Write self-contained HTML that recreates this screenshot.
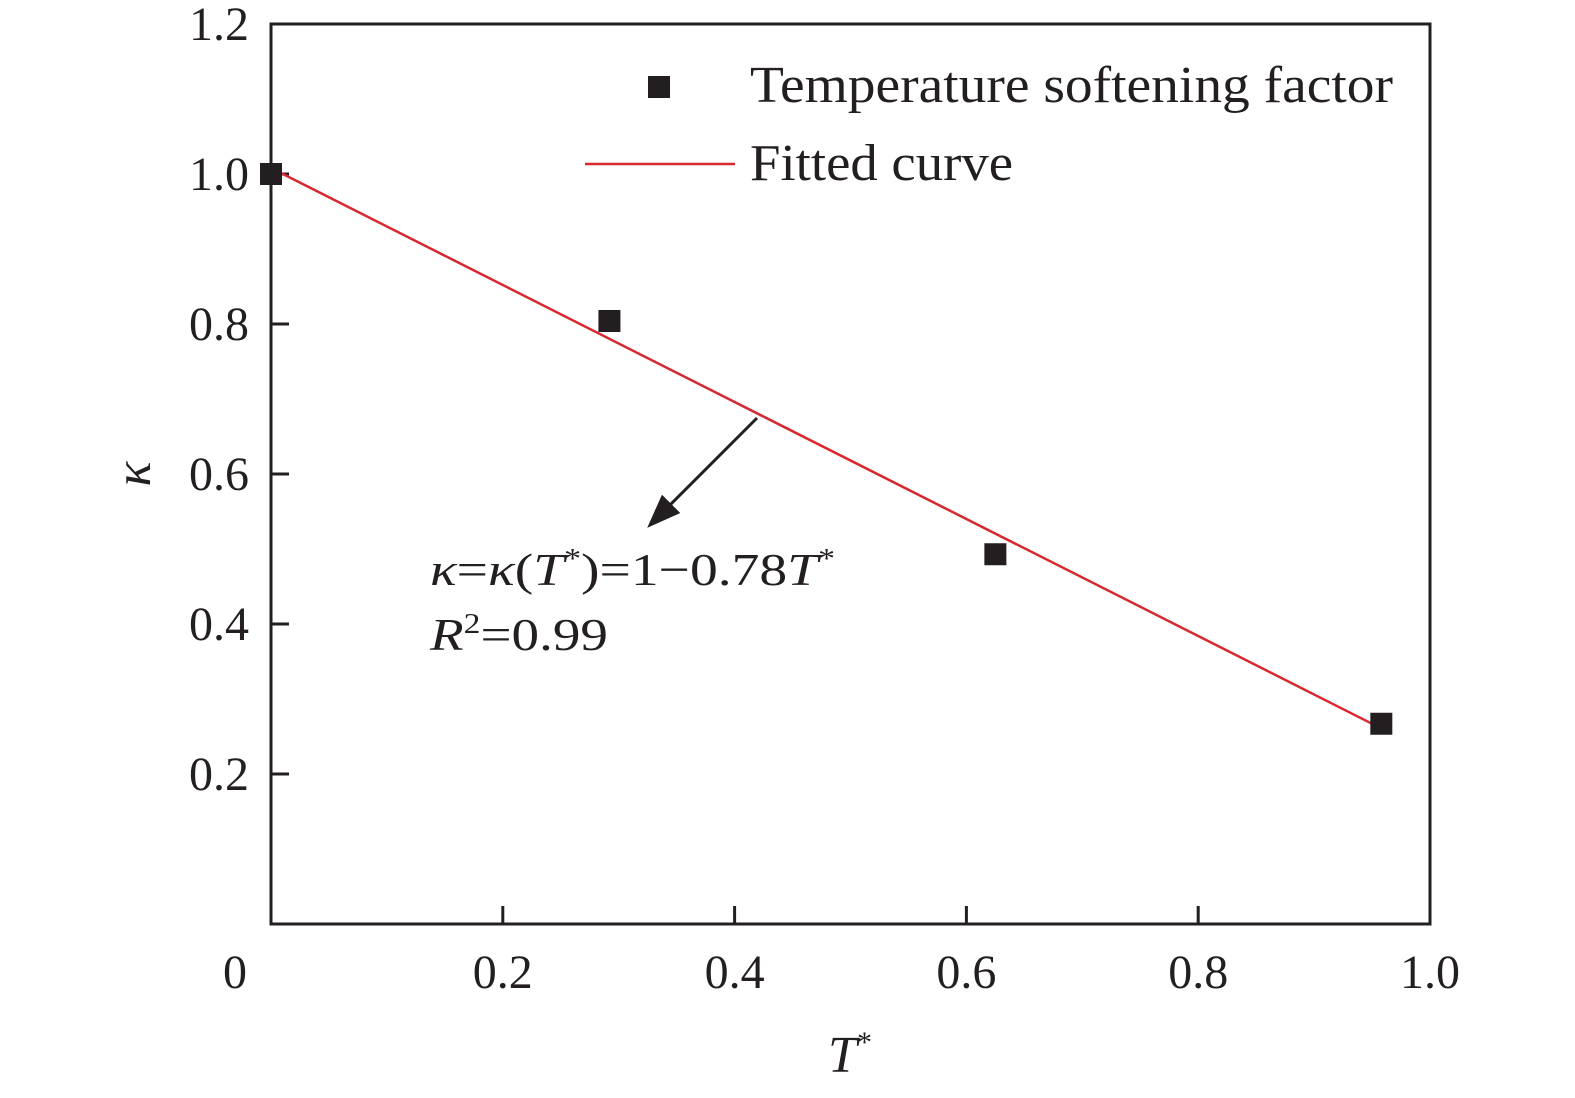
<!DOCTYPE html>
<html><head><meta charset="utf-8"><style>
html,body{margin:0;padding:0;background:#fff;overflow:hidden;width:1575px;height:1098px;}
body{position:relative;}
svg{display:block;}
svg text{font-family:"Liberation Serif",serif;fill:#231f20;}
</style></head><body>
<svg width="1575" height="1098" viewBox="0 0 1575 1098" style="position:absolute;left:0;top:0">
<defs><marker id="ah" markerWidth="34" markerHeight="26" refX="30" refY="13" orient="auto" markerUnits="userSpaceOnUse" viewBox="0 0 34 26"><path d="M0,0 L34,13 L0,26 z" fill="#231f20"/></marker></defs>
<g id="plot"></g>
</svg>
<script>
const xTicks=[0,0.2,0.4,0.6,0.8,1.0];
const xTickLabels=["0","0.2","0.4","0.6","0.8","1.0"];
const yTicks=[0.2,0.4,0.6,0.8,1.0,1.2];
const yTickLabels=["0.2","0.4","0.6","0.8","1.0","1.2"];
const tStar=[0,0.292,0.625,0.958];
const kappa=[1.0,0.804,0.493,0.267];
const fitX=[0,0.958];
const fitIntercept=1.008;
const fitSlope=-0.78;

const X0=271,X1=1430,Y0=924,Y1=24;
const sx=v=>X0+(X1-X0)*v;
const sy=v=>Y0-(Y0-Y1)*v/1.2;
const NS="http://www.w3.org/2000/svg";
const g=document.getElementById('plot');
function mk(t,a){const e=document.createElementNS(NS,t);for(const k in a)e.setAttribute(k,a[k]);g.appendChild(e);return e;}

const frame=mk('rect',{x:X0,y:Y1,width:X1-X0,height:Y0-Y1,fill:'none',stroke:'#231f20','stroke-width':3});



xTicks.forEach((v,i)=>{
  if(v>0&&v<1){const t=mk('line',{x1:sx(v),x2:sx(v),y1:Y0,y2:Y0-18,stroke:'#231f20','stroke-width':3});
  
  }
  const l=mk('text',{x:i==0?sx(v)-36:sx(v),y:988,'font-size':48,'text-anchor':'middle'});
  l.textContent=xTickLabels[i];
  
  
});
yTicks.forEach((v,i)=>{
  if(v<1.2){const t=mk('line',{x1:X0,x2:X0+18,y1:sy(v),y2:sy(v),stroke:'#231f20','stroke-width':3});
  
  }
  const l=mk('text',{x:249,y:sy(v)+16,'font-size':48,'text-anchor':'end'});
  l.textContent=yTickLabels[i];
  
  
});

const fl=mk('line',{x1:sx(fitX[0]),y1:sy(fitIntercept+fitSlope*fitX[0]),x2:sx(fitX[1]),y2:sy(fitIntercept+fitSlope*fitX[1]),stroke:'#d7282f','stroke-width':2.5});



tStar.forEach((v,i)=>{
  const r=mk('rect',{x:sx(v)-11,y:sy(kappa[i])-11,width:22,height:22,fill:'#231f20'});
  
  
});

const ar=mk('line',{x1:757,y1:418,x2:650,y2:525,stroke:'#231f20','stroke-width':3,'marker-end':'url(#ah)'});


</script>
<svg width="1575" height="1098" style="position:absolute;left:0;top:0">
<rect x="648" y="76" width="22" height="22" fill="#231f20"/>
<text x="750" y="102" font-size="52" textLength="643" lengthAdjust="spacingAndGlyphs">Temperature softening factor</text>
<line x1="585" y1="164" x2="735" y2="164" stroke="#d7282f" stroke-width="2.5"/>
<text x="750" y="180" font-size="52" textLength="263" lengthAdjust="spacingAndGlyphs">Fitted curve</text>
<text x="430" y="585" font-size="46" textLength="405" lengthAdjust="spacingAndGlyphs"><tspan font-style="italic">κ</tspan>=<tspan font-style="italic">κ</tspan>(<tspan font-style="italic">T</tspan><tspan font-size="28" dy="-17">*</tspan><tspan dy="17">)=1−0.78</tspan><tspan font-style="italic">T</tspan><tspan font-size="28" dy="-17">*</tspan></text>
<text x="430" y="650" font-size="46" textLength="178" lengthAdjust="spacingAndGlyphs"><tspan font-style="italic">R</tspan><tspan font-size="28" dy="-17">2</tspan><tspan dy="17">=0.99</tspan></text>
<text x="850" y="1072" font-size="52" text-anchor="middle" font-style="italic">T<tspan font-size="30" dy="-20" font-style="normal">*</tspan></text>
<text x="150" y="474" font-size="52" text-anchor="middle" font-style="italic" transform="rotate(-90 150 474)">κ</text>
</svg>
</body></html>
